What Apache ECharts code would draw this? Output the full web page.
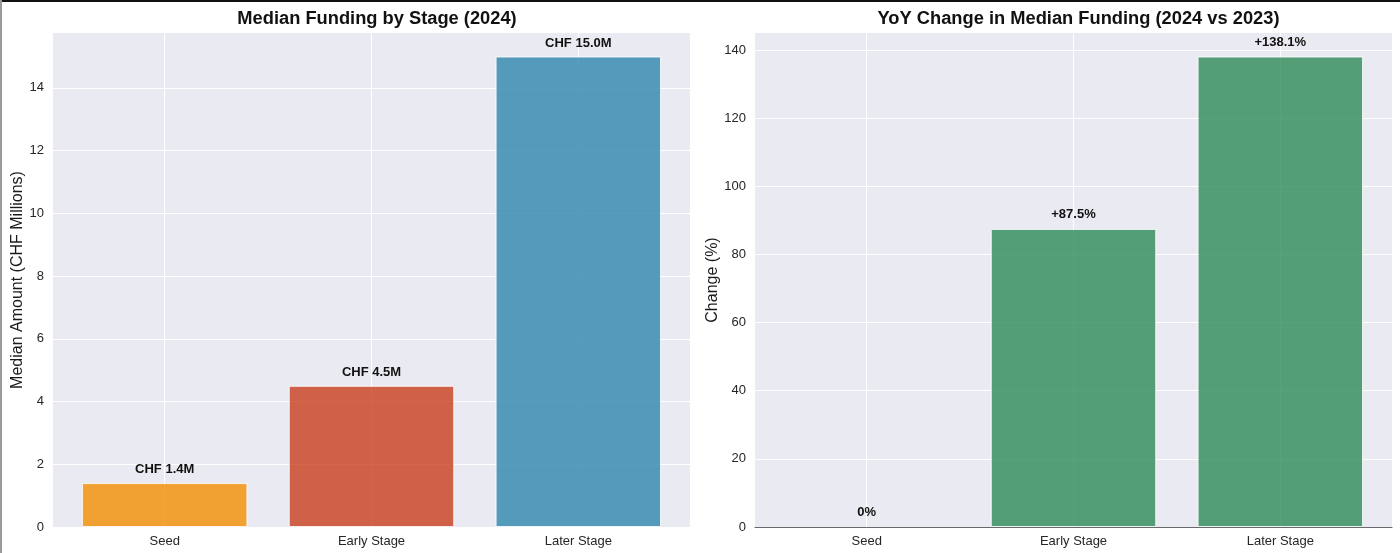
<!DOCTYPE html>
<html>
<head>
<meta charset="utf-8">
<script src="https://cdn.jsdelivr.net/npm/echarts@6/dist/echarts.min.js"></script>
<style>
  html, body { margin: 0; padding: 0; background: #fff; }
  #wrap { position: relative; width: 1400px; height: 553px; }
  #chart { position: absolute; left: 0; top: 0; width: 1400px; height: 553px; }
  #bt { position: absolute; left: 0; top: 0; width: 1400px; height: 2px; background: #111; }
  #bl { position: absolute; left: 0; top: 0; width: 2px; height: 553px; background: #9a9a9a; }
</style>
</head>
<body>
<div id="wrap"><div id="chart"></div><div id="bt"></div><div id="bl"></div></div>
<script>
// ---- data ----
const categories = ['Seed', 'Early Stage', 'Later Stage'];
const medianFunding = [1.4, 4.5, 15.0];          // CHF millions, 2024
const yoyChange = [0, 87.5, 138.1];              // % change 2024 vs 2023
const fundingColors = ['#F18F01', '#C73E1D', '#2E86AB'];
const yoyColor = '#2E8B57';
const leftTicks = [0, 2, 4, 6, 8, 10, 12, 14];
const rightTicks = [0, 20, 40, 60, 80, 100, 120, 140];

const FONT = '"Liberation Sans", Arial, sans-serif';
const chart = echarts.init(document.getElementById('chart'), null, { renderer: 'canvas' });

const idx = categories.map((_, i) => i);

function xAxisFor(gi, showLine) {
  return {
    type: 'value', gridIndex: gi, min: -0.54, max: 2.54,
    axisLine: { show: showLine, onZero: false, lineStyle: { color: '#6a6a6a', width: 1.2 } },
    axisTick: { show: false, customValues: idx },
    axisLabel: {
      customValues: idx, color: '#262626', fontSize: 13, fontFamily: FONT, margin: 8,
      formatter: v => categories[Math.round(v)] || ''
    },
    splitLine: { show: true, lineStyle: { color: '#ffffff', width: 1 } }
  };
}

function yAxisFor(gi, max, ticks, name, nameGap) {
  return {
    type: 'value', gridIndex: gi, min: 0, max: max,
    name: name, nameLocation: 'middle', nameGap: nameGap,
    nameTextStyle: { fontSize: 16, color: '#1a1a1a', fontFamily: FONT },
    axisLine: { show: false }, axisTick: { show: false, customValues: ticks },
    axisLabel: {
      customValues: ticks, color: '#262626', fontSize: 13, fontFamily: FONT, margin: 9
    },
    splitLine: { show: true, lineStyle: { color: '#ffffff', width: 1 } }
  };
}

const fundingMax = Math.max(...medianFunding) * 1.05;
const yoyMax = Math.max(...yoyChange) * 1.05;

const labelBase = {
  show: true, position: 'top', opacity: 1,
  fontSize: 13, fontWeight: 'bold', color: '#111111', fontFamily: FONT
};

chart.setOption({
  animation: false,
  backgroundColor: '#ffffff',
  title: [
    { text: 'Median Funding by Stage (2024)', left: 372, top: 5, textAlign: 'center',
      textStyle: { fontSize: 18.3, fontWeight: 'bold', color: '#111111', fontFamily: FONT } },
    { text: 'YoY Change in Median Funding (2024 vs 2023)', left: 1073.5, top: 5, textAlign: 'center',
      textStyle: { fontSize: 18.3, fontWeight: 'bold', color: '#111111', fontFamily: FONT } }
  ],
  grid: [
    { left: 53, top: 33, width: 637, height: 494, show: true, backgroundColor: '#EAEAF2', borderWidth: 0 },
    { left: 755, top: 33, width: 637, height: 494, show: true, backgroundColor: '#EAEAF2', borderWidth: 0 }
  ],
  xAxis: [xAxisFor(0, false), xAxisFor(1, true)],
  yAxis: [
    yAxisFor(0, fundingMax, leftTicks, 'Median Amount (CHF Millions)', 27),
    yAxisFor(1, yoyMax, rightTicks, 'Change (%)', 34)
  ],
  series: [
    {
      type: 'bar', xAxisIndex: 0, yAxisIndex: 0, barWidth: '80%',
      data: medianFunding.map((v, i) => ({
        value: [i, v],
        itemStyle: { color: fundingColors[i], opacity: 0.8, borderColor: '#ffffff', borderWidth: 1 }
      })),
      label: Object.assign({}, labelBase, {
        distance: 7,
        formatter: p => 'CHF ' + p.value[1].toFixed(1) + 'M'
      })
    },
    {
      type: 'bar', xAxisIndex: 1, yAxisIndex: 1, barWidth: '80%',
      data: yoyChange.map((v, i) => ({
        value: [i, v],
        itemStyle: { color: yoyColor, opacity: 0.8, borderColor: '#ffffff', borderWidth: v === 0 ? 0 : 1 }
      })),
      label: Object.assign({}, labelBase, {
        distance: 8,
        formatter: p => (p.value[1] > 0 ? '+' + p.value[1].toFixed(1) : String(p.value[1])) + '%'
      })
    }
  ]
});
</script>
</body>
</html>
